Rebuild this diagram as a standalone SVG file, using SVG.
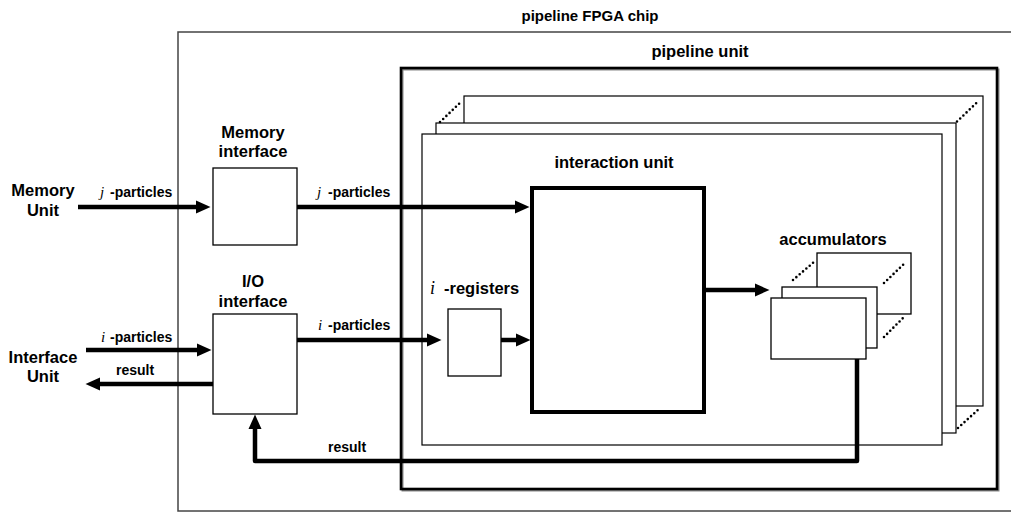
<svg xmlns="http://www.w3.org/2000/svg" width="1011" height="514" viewBox="0 0 1011 514">
<style>
  .t { font-family: "Liberation Sans", Arial, sans-serif; font-weight: bold; fill: #000; }
  .big { font-size: 16.5px; }
  .mid { font-size: 15px; }
  .lbl { font-size: 14px; }
  .it { font-family: "Liberation Serif", "Times New Roman", serif; font-style: italic; font-weight: normal; }
  .box { fill: #fff; stroke: #000; stroke-width: 1.3; }
  .frame { fill: #fff; stroke: #000; stroke-width: 1.2; }
  .dots { fill: none; stroke: #000; stroke-width: 2.6; stroke-linecap: round; stroke-dasharray: 0 4.4; }
  .wire { fill: none; stroke: #000; stroke-width: 4.5; stroke-linejoin: round; }
</style>
<defs>
  <marker id="ah" markerUnits="userSpaceOnUse" markerWidth="16" markerHeight="14" refX="0" refY="6.5" orient="auto" overflow="visible">
    <path d="M0,0 L14.5,6.5 L0,13 Z" fill="#000"/>
  </marker>
</defs>
<rect width="1011" height="514" fill="#fff"/>

<g id="fpga-chip">
  <rect x="178" y="32" width="840" height="479" fill="none" stroke="#444" stroke-width="1.5"/>
  <text class="t mid" x="590" y="21" text-anchor="middle">pipeline FPGA chip</text>
</g>

<g id="pipeline-unit">
  <rect x="402.5" y="69.5" width="596" height="421" fill="none" stroke="#888" stroke-width="2"/>
  <rect x="401" y="68" width="596" height="421" fill="none" stroke="#000" stroke-width="2.6"/>
  <text class="t big" x="700" y="57" text-anchor="middle">pipeline unit</text>
</g>

<g id="pipeline-stack">
  <rect class="frame" x="464" y="96" width="519" height="310"/>
  <rect class="frame" x="436" y="123" width="520" height="310"/>
  <rect class="frame" x="422" y="134" width="520" height="311"/>
  <line class="dots" x1="440" y1="122" x2="462" y2="101"/>
  <line class="dots" x1="957" y1="121.5" x2="978" y2="101.5"/>
  <line class="dots" x1="958" y1="428" x2="980" y2="408"/>
</g>

<g id="memory-unit">
  <text class="t big" x="43" y="196" text-anchor="middle">Memory</text>
  <text class="t big" x="43" y="216" text-anchor="middle">Unit</text>
</g>

<g id="interface-unit">
  <text class="t big" x="43" y="363" text-anchor="middle">Interface</text>
  <text class="t big" x="43" y="382" text-anchor="middle">Unit</text>
</g>

<g id="memory-interface">
  <rect class="box" x="213" y="168" width="84" height="77"/>
  <text class="t big" x="253" y="138" text-anchor="middle">Memory</text>
  <text class="t big" x="253" y="157" text-anchor="middle">interface</text>
</g>

<g id="io-interface">
  <rect class="box" x="213" y="314" width="84" height="100"/>
  <text class="t big" x="253" y="287" text-anchor="middle">I/O</text>
  <text class="t big" x="253" y="307" text-anchor="middle">interface</text>
</g>

<g id="i-registers">
  <rect class="box" x="448" y="309" width="53" height="67"/>
  <text class="t big" y="294"><tspan class="it" x="430" font-size="18">i</tspan><tspan x="444">-registers</tspan></text>
</g>

<g id="interaction-unit">
  <rect x="532" y="188" width="172" height="224" fill="#fff" stroke="#000" stroke-width="4"/>
  <text class="t big" x="614" y="168" text-anchor="middle">interaction unit</text>
</g>

<g id="accumulators">
  <rect class="box" x="817" y="253" width="94" height="61"/>
  <line class="dots" x1="793" y1="280" x2="814" y2="262"/>
  <line class="dots" x1="884" y1="283" x2="905" y2="263"/>
  <line class="dots" x1="884" y1="337" x2="905" y2="316"/>
  <rect class="box" x="782" y="287" width="95" height="61"/>
  <rect class="box" x="771" y="298" width="95" height="61"/>
  <text class="t big" x="833" y="245" text-anchor="middle">accumulators</text>
</g>

<g id="connectors">
  <line class="wire" x1="78" y1="207" x2="196" y2="207" marker-end="url(#ah)"/>
  <line class="wire" x1="297" y1="207" x2="515" y2="207" marker-end="url(#ah)"/>
  <line class="wire" x1="86" y1="350" x2="197" y2="350" marker-end="url(#ah)"/>
  <line class="wire" x1="213" y1="384" x2="100" y2="384" marker-end="url(#ah)"/>
  <line class="wire" x1="297" y1="340" x2="427" y2="340" marker-end="url(#ah)"/>
  <line class="wire" x1="501" y1="340" x2="516" y2="340" marker-end="url(#ah)"/>
  <line class="wire" x1="706" y1="290" x2="755" y2="290" marker-end="url(#ah)"/>
  <path class="wire" d="M857,359 V461 H255 V429" marker-end="url(#ah)"/>

  <text class="t lbl" y="197"><tspan class="it" x="100" font-size="15">j</tspan><tspan x="110">-particles</tspan></text>
  <text class="t lbl" y="197"><tspan class="it" x="317" font-size="15">j</tspan><tspan x="328">-particles</tspan></text>
  <text class="t lbl" y="342"><tspan class="it" x="101" font-size="15">i</tspan><tspan x="110">-particles</tspan></text>
  <text class="t lbl" y="330"><tspan class="it" x="318" font-size="15">i</tspan><tspan x="328">-particles</tspan></text>
  <text class="t lbl" x="116" y="375">result</text>
  <text class="t lbl" x="328" y="452">result</text>
</g>
</svg>
